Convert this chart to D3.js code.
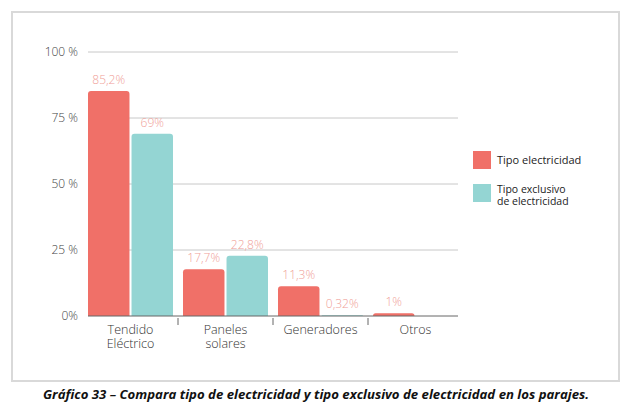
<!DOCTYPE html>
<html><head><meta charset="utf-8">
<script src="https://cdn.jsdelivr.net/npm/d3@7"></script>
<style>body{margin:0;background:#fff}svg{display:block}</style>
</head><body>
<svg id="c" width="631" height="408"></svg>
<script>
const categories = [["Tendido","Eléctrico"],["Paneles","solares"],["Generadores"],["Otros"]];
const seriesNames = ["Tipo electricidad", "Tipo exclusivo de electricidad"];
const tipoElectricidad = [85.2, 17.7, 11.3, 1];
const tipoExclusivo = [69, 22.8, 0.32, null];
const labelsElectricidad = ["85,2%", "17,7%", "11,3%", "1%"];
const labelsExclusivo = ["69%", "22,8%", "0,32%", ""];
const yTicks = [0, 25, 50, 75, 100];
const yTickLabels = ["0%", "25 %", "50 %", "75 %", "100 %"];
const colors = ["#f07068", "#94d5d3"];

const svg = d3.select("#c");
// frame
svg.append("rect").attr("x",12).attr("y",12).attr("width",607).attr("height",369)
  .attr("fill","#fff").attr("stroke","#d9d9d9").attr("stroke-width",2);

const y = d3.scaleLinear().domain([0,100]).range([316,52]);
const x0 = d3.scaleBand().domain(d3.range(categories.length)).range([83,463]).paddingInner(0).paddingOuter(0);
const x1 = d3.scaleBand().domain([0,1]).range([5, x0.bandwidth()-5]).paddingInner(0.047);

// gridlines
svg.append("g").selectAll("line").data(yTicks.filter(d=>d>0)).join("line")
  .attr("x1",88).attr("x2",458).attr("y1",d=>y(d)).attr("y2",d=>y(d))
  .attr("stroke","#c8c8c8").attr("stroke-width",1);

// y labels
svg.append("g").selectAll("text").data(yTicks).join("text")
  .attr("x",78).attr("y",d=>y(d)+4).attr("text-anchor","end")
  .attr("font-family","Open Sans").attr("font-weight",300).attr("font-size",12).attr("fill","#444")
  .text((d,i)=>yTickLabels[i]);

const rounded = (x,yt,w,h,r) => {
  r = Math.min(r,h);
  return `M${x},${yt+h}V${yt+r}Q${x},${yt} ${x+r},${yt}H${x+w-r}Q${x+w},${yt} ${x+w},${yt+r}V${yt+h}Z`;
};

const series = [tipoElectricidad, tipoExclusivo];
const labels = [labelsElectricidad, labelsExclusivo];
series.forEach((vals,s)=>{
  const g = svg.append("g");
  vals.forEach((v,i)=>{
    if (v==null) return;
    const bx = x0(i)+x1(s), bw = x1.bandwidth();
    const top = y(v), h = y(0)-y(v);
    g.append("path").attr("d", rounded(bx, top, bw, h, 3)).attr("fill", colors[s]);
    g.append("text").attr("x", bx+bw/2).attr("y", top-7).attr("text-anchor","middle")
      .attr("font-family","Open Sans").attr("font-weight",300).attr("font-size",12).attr("fill","#f0a098")
      .text(labels[s][i]);
  });
});

// x axis
svg.append("line").attr("x1",88).attr("x2",458).attr("y1",y(0)).attr("y2",y(0))
  .attr("stroke","#666").attr("stroke-width",1);
svg.append("g").selectAll("line").data(d3.range(1,categories.length)).join("line")
  .attr("x1",d=>x0(d)).attr("x2",d=>x0(d)).attr("y1",y(0)+2).attr("y2",y(0)+9)
  .attr("stroke","#666");
categories.forEach((lines,i)=>{
  lines.forEach((ln,k)=>{
    svg.append("text").attr("text-anchor","middle")
      .attr("font-family","Open Sans").attr("font-weight",300).attr("font-size",12.5).attr("fill","#333")
      .attr("x", x0(i)+x0.bandwidth()/2).attr("y", 334+k*14).text(ln);
  });
});

// legend
const lg = svg.append("g");
lg.append("rect").attr("x",473).attr("y",151).attr("width",18).attr("height",18).attr("fill",colors[0]);
lg.append("text").attr("x",497).attr("y",164).attr("font-family","Open Sans").attr("font-size",11).attr("fill","#222").text(seriesNames[0]);
lg.append("rect").attr("x",473).attr("y",184).attr("width",18).attr("height",18).attr("fill",colors[1]);
["Tipo exclusivo","de electricidad"].forEach((ln,k)=>{
  lg.append("text").attr("x",497).attr("y",193+k*11.5).attr("font-family","Open Sans").attr("font-size",10.5)
    .attr("fill","#222").text(ln);
});

// caption
svg.append("text").attr("x",316).attr("y",399).attr("text-anchor","middle")
  .attr("font-family","Open Sans").attr("font-weight","bold").attr("font-style","italic")
  .attr("font-size",12.5).attr("fill","#111")
  .attr("textLength",546).attr("lengthAdjust","spacingAndGlyphs")
  .text("Gráfico 33 – Compara tipo de electricidad y tipo exclusivo de electricidad en los parajes.");
</script>
</body></html>
